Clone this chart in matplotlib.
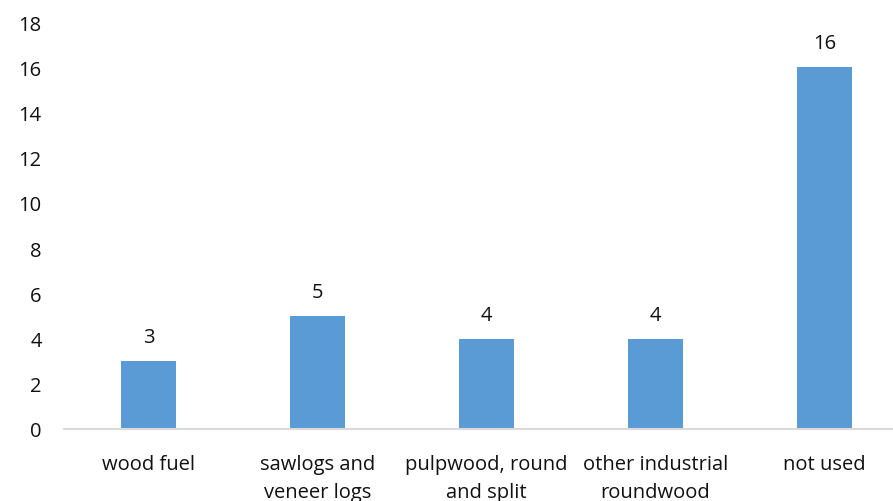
import matplotlib.pyplot as plt

categories = ["wood fuel", "sawlogs and\nveneer logs", "pulpwood, round\nand split",
              "other industrial\nroundwood", "not used"]
values = [3, 5, 4, 4, 16]
yticks = [0, 2, 4, 6, 8, 10, 12, 14, 16, 18]

plt.rcParams['font.family'] = ['Open Sans', 'DejaVu Sans']

fig = plt.figure(figsize=(8.93, 5.02), dpi=100)
ax = fig.add_axes([64 / 893, 72 / 502, 845 / 893, 407 / 502])

x = range(len(categories))
bars = ax.bar(x, values, width=0.32, color='#5b9bd5')
for b, v in zip(bars, values):
    ax.annotate(str(v), (b.get_x() + b.get_width() / 2, v), xytext=(0, 10),
                textcoords='offset points', ha='center', va='bottom',
                fontsize=14.5, color='#111111')

ax.set_xlim(-0.5, len(categories) - 0.5)
ax.set_ylim(0, 18)
ax.set_yticks(yticks)
ax.set_xticks(list(x))
ax.set_xticklabels(categories, fontsize=14.5, linespacing=1.55, color='#111111')
ax.tick_params(axis='y', length=0, pad=16, labelsize=14.5, labelcolor='#111111')
ax.tick_params(axis='x', length=0, pad=18)

for side in ['top', 'right', 'left']:
    ax.spines[side].set_visible(False)
ax.spines['bottom'].set_color('#d9d9d9')
ax.spines['bottom'].set_linewidth(1.5)

fig.savefig('out.png', dpi=100)
